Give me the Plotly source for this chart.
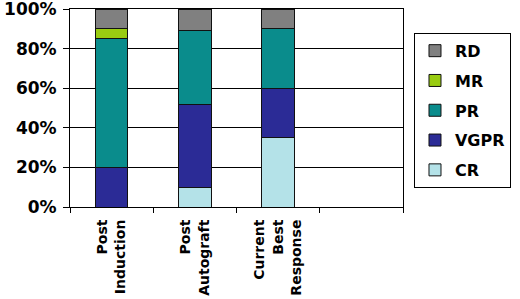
import plotly.graph_objects as go

categories = ["Post<br>Induction", "Post<br>Autograft", "Current<br>Best<br>Response"]
all_slots = categories + [" "]
series_names = ["CR", "VGPR", "PR", "MR", "RD"]
cr = [0, 10, 35]
vgpr = [20, 42, 25]
pr = [65, 37, 30]
mr = [5, 0, 0]
rd = [10, 11, 10]
colors = {"CR": "#B4E2E8", "VGPR": "#2B2B96", "PR": "#0A8C8C", "MR": "#99CC11", "RD": "#808080"}
y_ticks = [0, 20, 40, 60, 80, 100]
y_tick_text = ["0%", "20%", "40%", "60%", "80%", "100%"]

values = {"CR": cr, "VGPR": vgpr, "PR": pr, "MR": mr, "RD": rd}

fig = go.Figure()
for i, name in enumerate(series_names):
    fig.add_trace(go.Bar(
        x=categories, y=values[name], name=name, legendgroup=name,
        legendrank=len(series_names) - i,
        marker=dict(color=colors[name], line=dict(color="#111111", width=1)),
        width=0.39,
    ))

font_family = "DejaVu Sans"
fig.update_layout(
    width=520, height=299,
    barmode="stack",
    margin=dict(l=70, r=114, t=9, b=92),
    plot_bgcolor="white", paper_bgcolor="white",
    font=dict(family=font_family, color="black", weight="bold"),
    showlegend=True,
    legend=dict(
        x=1.033, y=0.88, xanchor="left", yanchor="top",
        bordercolor="black", borderwidth=1, bgcolor="white",
        traceorder="grouped", tracegroupgap=6, itemwidth=30,
        font=dict(size=16, family=font_family, color="black", weight="bold"),
    ),
    xaxis=dict(
        type="category", categoryorder="array", categoryarray=all_slots,
        range=[-0.5, 3.5], tickson="boundaries", ticks="outside", ticklen=5,
        tickcolor="black", showline=True, linecolor="black", mirror=True,
        tickangle=-90, tickfont=dict(size=14, family=font_family, weight="bold"),
        ticklabelstandoff=6,
        showgrid=False, automargin=False,
    ),
    yaxis=dict(
        range=[0, 100], tickvals=y_ticks, ticktext=y_tick_text, ticks="outside",
        ticklen=6, tickcolor="black", showline=True, linecolor="black", mirror=True,
        gridcolor="black", gridwidth=1, zeroline=False, automargin=False,
        ticklabeloverflow="allow", ticklabelstandoff=3,
        tickfont=dict(size=17, family=font_family, weight="bold"),
    ),
)

fig.write_html("out.html", config={"displayModeBar": False},
               post_script="document.body.style.margin='0';")
